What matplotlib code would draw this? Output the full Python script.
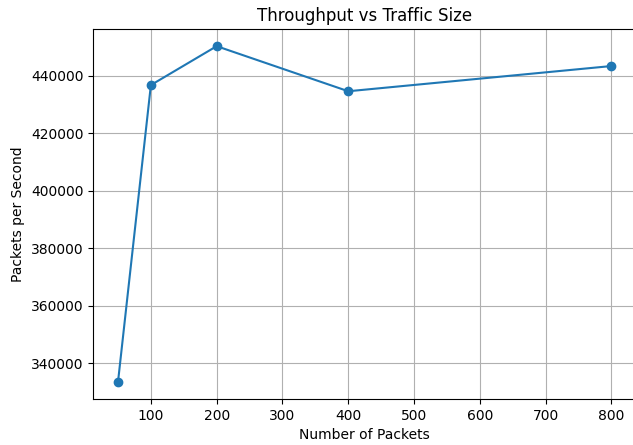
import matplotlib
matplotlib.use('Agg')
import matplotlib.pyplot as plt

# Data
num_packets = [50, 100, 200, 400, 800]
pps = [333400, 436750, 450280, 434600, 443370]

fig = plt.figure(figsize=(6.33, 4.45), dpi=100)
ax = fig.add_subplot()
ax.plot(num_packets, pps, marker='o', color='#1f77b4')
ax.set_title('Throughput vs Traffic Size')
ax.set_xlabel('Number of Packets')
ax.set_ylabel('Packets per Second')
ax.grid(True)
# right spine sits just outside the image in the reference
fig.subplots_adjust(left=0.1474, right=1.005, top=0.934, bottom=0.1034)
fig.savefig('out.png', dpi=100)
